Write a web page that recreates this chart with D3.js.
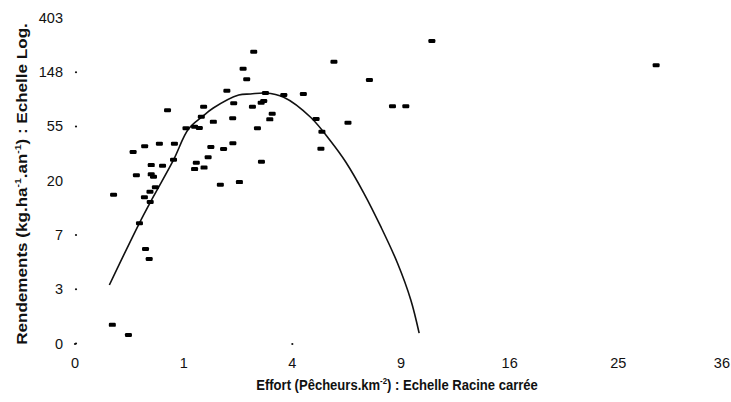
<!DOCTYPE html>
<html>
<head>
<meta charset="utf-8">
<script src="https://cdn.jsdelivr.net/npm/d3@7/dist/d3.min.js"></script>
<style>
  html, body { margin: 0; padding: 0; background: #fff; }
  svg { display: block; }
  text { font-family: "Liberation Sans", Arial, Helvetica, sans-serif; fill: #111; }
</style>
</head>
<body>
<svg id="chart" width="731" height="402"></svg>
<script>
// ---- Data ----
const xTicks = [0, 1, 4, 9, 16, 25, 36];
const xTickDots = [0, 4];
const yTicks = [1, 2.718, 7.389, 20.09, 54.6, 148.4, 403.4];
const yTickLabels = ["0", "3", "7", "20", "55", "148", "403"];
const yTickDots = [1, 2.718, 7.389, 54.6, 148.4];

// Observed points: effort (fishers per km2) and yield (kg/ha/yr)
const effort = [2.705, 2.393, 2.497, 1.953, 3.072, 3.693, 4.416, 4.922, 5.121, 2.133,
  2.666, 2.935, 3.017, 1.401, 0.725, 1.351, 2.106, 1.621, 1.043, 1.211,
  1.309, 2.819, 0.286, 0.411, 0.603, 0.837, 1.563, 1.869, 2.111, 0.822,
  0.492, 0.649, 1.246, 1.501, 1.211, 1.410, 2.944, 0.319, 0.492, 0.522,
  1.789, 2.289, 0.547, 0.476, 0.126, 0.408, 0.479, 0.352, 0.421, 0.466,
  0.118, 0.242, 10.785, 5.678, 7.341, 3.293, 3.213, 8.536, 9.268, 6.310,
  5.163, 28.6];
const yieldKg = [216.8, 158.5, 130.3, 105.4, 101.2, 97.6, 99.4, 62.7, 36.3, 83.7,
  78.6, 84.7, 87.4, 78.6, 73.6, 65.4, 63.5, 59.5, 52.8, 54.4,
  53.1, 52.8, 34.1, 38.0, 39.8, 39.8, 37.4, 36.1, 40.1, 29.6,
  26.8, 26.5, 28.0, 31.0, 24.9, 25.6, 28.5, 22.2, 22.6, 21.6,
  18.7, 19.6, 17.8, 16.4, 15.5, 14.8, 13.6, 9.17, 5.71, 4.75,
  1.41, 1.17, 264, 180.3, 128.7, 69.1, 62.3, 79.2, 79.2, 58.6,
  49.6, 168.7];

// Fitted curve, read at points along its trace
const curveEffort = [0.10, 0.35, 0.52, 0.82, 1.09, 1.37, 1.62, 2.27, 2.61, 3.07,
  3.69, 4.70, 5.53, 6.20, 7.07, 7.92, 8.81, 9.55, 10.03];
const curveYield = [2.94, 9.17, 14.97, 29.4, 52.1, 65.4, 76.8, 97.6, 99.4, 101.2,
  93.5, 64.7, 41.8, 28.5, 15.94, 8.61, 4.39, 2.23, 1.21];

const xLabelParts = [["Effort (Pêcheurs.km", false], ["-2", true], [") : Echelle Racine carrée", false]];
const yLabelParts = [["Rendements (kg.ha", false], ["-1", true], [".an", false], ["-1", true], [") : Echelle Log.", false]];

// ---- Drawing ----
const W = 731;
const svg = d3.select("#chart");
const x = d3.scaleSqrt().domain([0, 36]).range([75, 727]);
const y = d3.scaleLog().domain([1, Math.exp(6)]).range([343.5, 18]);

// y tick labels
svg.append("g").selectAll("text").data(yTicks).join("text")
  .attr("x", 63).attr("y", d => y(d) + 5)
  .attr("text-anchor", "end")
  .style("font-size", "14.5px")
  .text((d, i) => yTickLabels[i]);
svg.append("g").selectAll("circle").data(yTickDots).join("circle")
  .attr("cx", 76).attr("cy", d => y(d)).attr("r", 1.1).attr("fill", "#111");

// x tick labels (kept inside the frame at the right edge)
svg.append("g").selectAll("text").data(xTicks).join("text")
  .attr("y", 368)
  .attr("text-anchor", "middle")
  .style("font-size", "14.5px")
  .text(d => d)
  .each(function(d) {
    const w = this.getComputedTextLength();
    d3.select(this).attr("x", Math.min(x(d), W - 1 - w / 2));
  });
svg.append("g").selectAll("circle").data(xTickDots).join("circle")
  .attr("cx", d => x(d)).attr("cy", 344).attr("r", 1.1).attr("fill", "#111");

// fitted curve
const pts = curveEffort.map((e, i) => [e, curveYield[i]]);
svg.append("path")
  .attr("d", d3.line().x(d => x(d[0])).y(d => y(d[1])).curve(d3.curveCatmullRom.alpha(0.5))(pts))
  .attr("fill", "none").attr("stroke", "#111").attr("stroke-width", 1.6);

// points
svg.append("g").selectAll("rect").data(effort.map((e, i) => [e, yieldKg[i]])).join("rect")
  .attr("x", d => x(d[0]) - 3.5).attr("y", d => y(d[1]) - 2)
  .attr("width", 7).attr("height", 4).attr("rx", 1.2)
  .attr("fill", "#000");

// axis titles
function addLabel(g, parts, size, targetLen) {
  const t = g.append("text").style("font-size", size + "px").style("font-weight", "bold");
  let raised = false;
  parts.forEach(([s, sup]) => {
    let dy = 0;
    if (sup && !raised) { dy = -size * 0.4; raised = true; }
    else if (!sup && raised) { dy = size * 0.4; raised = false; }
    t.append("tspan")
      .attr("dy", dy)
      .style("font-size", sup ? (size * 0.6) + "px" : null)
      .text(s);
  });
  const len = t.node().getComputedTextLength();
  t.attr("text-anchor", "middle")
   .attr("transform", `scale(${targetLen / len},1)`);
  return t;
}
addLabel(svg.append("g").attr("transform", "translate(397,390)"), xLabelParts, 14, 282);
addLabel(svg.append("g").attr("transform", "translate(27,184) rotate(-90)"), yLabelParts, 14.5, 322);
</script>
</body>
</html>
